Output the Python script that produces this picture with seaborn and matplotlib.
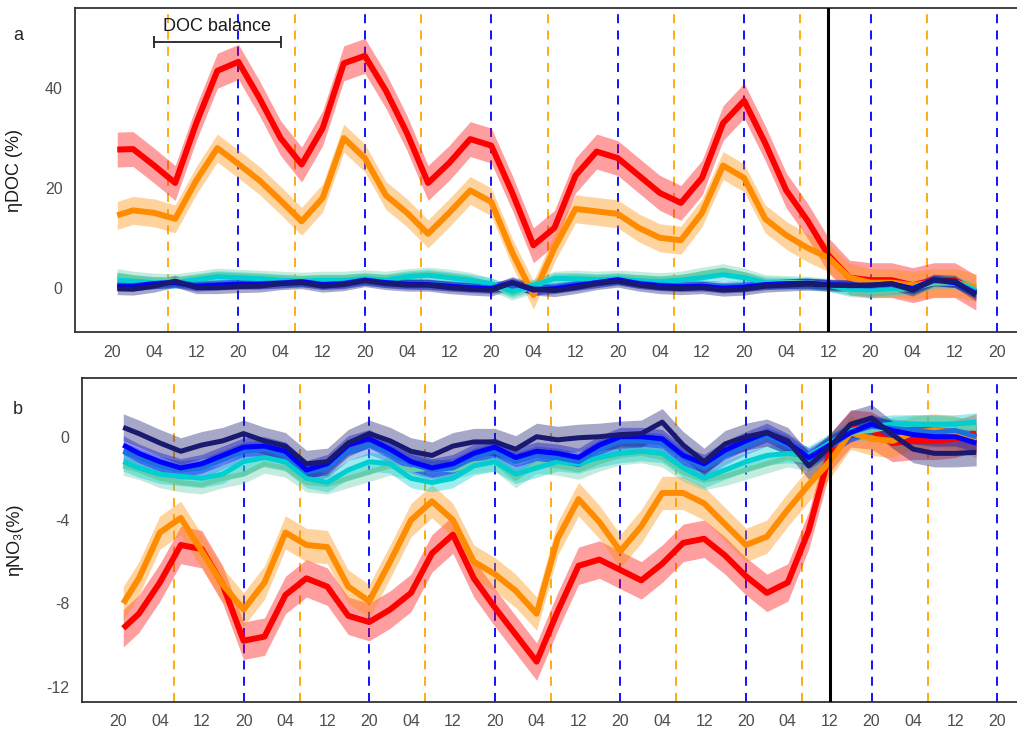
import numpy as np
import pandas as pd
import matplotlib
matplotlib.use("Agg")
import matplotlib.pyplot as plt
import seaborn as sns

# ---------------- data ----------------
hours = [1, 4, 8, 12, 16, 20, 24, 28, 32, 36, 40, 44, 48, 52, 56, 60, 64, 68, 72, 76, 80,
         84, 88, 92, 96, 100, 104, 108, 112, 116, 120, 124, 128, 132, 136, 140, 144, 148,
         152, 156, 160, 164]

tick_pos = list(range(0, 169, 8))
tick_labels = ["20", "04", "12"] * 7 + ["20"]
sunrise = [10.7, 34.7, 58.7, 82.7, 106.7, 130.7, 154.7]
sunset = [24, 48, 72, 96, 120, 144, 168]
event = 136

series_names = ["red", "orange", "aquamarine", "turquoise", "dodger", "blue", "navy"]
series_colors = ["#FF0000", "#FF8C00", "#66CDAA", "#00CED1", "#1C6FE0", "#0000FF", "#191970"]

# panel a: eta DOC (%)
doc_red = [27.7, 27.8, 24.5, 21.0, 33.0, 43.5, 45.3, 38.0, 30.0, 24.7, 32.0, 45.0, 46.5, 39.5,
           31.0, 21.0, 25.0, 29.8, 28.5, 19.0, 8.5, 12.0, 22.5, 27.3, 26.0, 22.5, 19.0, 17.0,
           22.0, 33.0, 37.5, 29.0, 19.5, 13.5, 6.5, 2.0, 1.5, 1.5, 0.5, 1.5, 1.5, -1.0]
doc_orange = [14.5, 15.5, 15.0, 13.8, 21.5, 28.0, 24.8, 21.5, 17.5, 13.3, 18.0, 30.0, 26.0,
              18.5, 15.0, 10.8, 15.0, 19.5, 17.2, 7.0, -1.5, 8.0, 15.8, 15.3, 14.8, 12.0, 10.0,
              9.5, 15.0, 24.5, 22.0, 13.8, 10.5, 8.0, 6.0, 2.0, 1.0, 1.0, 0.5, 1.0, 1.0, 0.0]
doc_aquamarine = [2.5, 2.0, 1.6, 1.5, 2.0, 2.6, 2.4, 2.2, 2.0, 1.8, 2.0, 2.0, 2.3, 2.0, 2.5,
                  2.8, 2.4, 1.8, 0.6, -1.2, 0.2, 2.0, 2.2, 2.0, 2.2, 2.0, 1.7, 2.0, 2.8, 3.5,
                  2.6, 1.3, 1.1, 1.0, 0.6, -0.5, -0.8, -0.4, -0.2, 1.0, 1.0, -0.5]
doc_turquoise = [1.5, 1.3, 1.0, 1.0, 1.6, 2.2, 2.0, 1.8, 1.5, 1.3, 1.5, 1.5, 1.8, 1.5, 2.2,
                 2.5, 2.0, 1.5, 0.8, -0.8, 0.5, 1.8, 1.8, 1.6, 1.8, 1.4, 1.2, 1.5, 2.0, 2.6,
                 2.0, 1.0, 0.9, 0.8, 0.5, -0.3, -0.5, -0.2, 0.0, 1.2, 1.2, -0.5]
doc_dodger = [0.5, 0.4, 0.8, 1.2, 0.5, 0.6, 0.8, 0.8, 1.0, 1.2, 0.7, 0.9, 1.5, 1.0, 0.8,
              0.7, 0.4, 0.2, 0.0, 0.8, -0.3, 0.0, 0.5, 1.0, 1.5, 0.9, 0.5, 0.4, 0.5, 0.3,
              0.3, 0.6, 0.8, 0.9, 0.6, 0.4, 0.3, 0.6, -0.3, 1.4, 1.0, -1.0]
doc_blue = [0.3, 0.3, 0.8, 1.0, 0.3, 0.5, 0.7, 0.7, 0.9, 1.2, 0.6, 0.8, 1.5, 1.0, 0.7, 0.6,
            0.3, 0.0, -0.2, 1.0, -0.5, -0.2, 0.4, 1.0, 1.6, 0.8, 0.4, 0.2, 0.3, -0.1, 0.1,
            0.6, 0.8, 0.9, 0.6, 0.5, 0.5, 0.8, -0.2, 1.6, 1.0, -1.2]
doc_navy = [-0.2, -0.3, 0.3, 1.3, 0.0, 0.0, 0.2, 0.3, 0.8, 1.0, 0.3, 0.6, 1.4, 0.8, 0.5,
            0.5, 0.0, -0.3, -0.5, 1.0, -0.3, -0.6, 0.0, 0.8, 1.3, 0.5, 0.0, -0.2, 0.0, -0.5,
            -0.3, 0.3, 0.5, 0.7, 0.5, 0.4, 0.5, 0.8, -0.5, 1.5, 1.3, -1.5]
doc_halfwidth = [3.5, 2.8, 1.3, 1.2, 1.0, 1.0, 1.2]

# panel b: eta NO3 (%)
no3_red = [-9.2, -8.5, -7.0, -5.2, -5.4, -7.1, -9.8, -9.6, -7.6, -6.8, -7.2, -8.6, -8.9, -8.3,
           -7.5, -5.6, -4.7, -6.8, -8.2, -9.5, -10.8, -8.4, -6.2, -5.9, -6.4, -6.9, -6.1, -5.1,
           -4.9, -5.7, -6.7, -7.5, -7.0, -4.5, -0.8, 0.4, 0.3, -0.3, -0.2, -0.2, -0.1, 0.2]
no3_orange = [-8.0, -6.8, -4.6, -3.9, -5.5, -7.1, -8.3, -7.0, -4.6, -5.2, -5.3, -7.2, -7.9,
              -6.0, -4.0, -3.1, -4.0, -6.0, -6.6, -7.4, -8.5, -4.9, -3.0, -4.1, -5.5, -4.3,
              -2.7, -2.7, -3.2, -4.2, -5.2, -4.8, -3.5, -2.3, -1.2, 0.2, -0.1, -0.2, 0.2, 0.3,
              0.2, -0.2]
no3_aquamarine = [-1.4, -1.6, -2.0, -2.2, -2.3, -2.0, -1.8, -1.3, -1.5, -2.2, -2.3, -2.0, -1.7,
                  -1.4, -1.6, -1.5, -1.6, -1.3, -1.2, -2.0, -1.3, -1.4, -1.6, -1.2, -0.9, -0.8,
                  -1.0, -1.7, -2.1, -1.9, -1.6, -1.3, -1.0, -1.2, -0.4, 0.2, 0.3, 0.5, 0.6,
                  0.6, 0.5, 0.4]
no3_turquoise = [-1.2, -1.5, -1.8, -1.9, -2.0, -1.8, -1.2, -1.0, -1.2, -2.0, -2.2, -1.6, -1.2,
                 -1.3, -2.0, -2.2, -2.0, -1.4, -1.2, -1.8, -1.5, -1.2, -1.3, -1.0, -0.8, -0.7,
                 -0.8, -1.5, -2.0, -1.6, -1.2, -0.9, -0.8, -0.9, -0.3, 0.3, 0.5, 0.6, 0.6, 0.6,
                 0.6, 0.7]
no3_dodger = [-0.7, -1.0, -1.4, -1.6, -1.5, -1.1, -0.7, -0.6, -0.9, -1.7, -1.5, -0.7, -0.4,
              -0.8, -1.3, -1.6, -1.5, -1.0, -0.7, -1.2, -0.9, -1.0, -1.2, -0.6, -0.2, -0.2,
              -0.3, -1.0, -1.5, -0.9, -0.4, 0.0, -0.4, -1.1, -0.5, 0.2, 0.5, 0.4, 0.3, 0.2,
              0.3, 0.0]
no3_blue = [-0.4, -0.8, -1.2, -1.5, -1.3, -0.9, -0.5, -0.45, -0.7, -1.6, -1.3, -0.4, -0.1, -0.6,
            -1.2, -1.5, -1.3, -0.8, -0.5, -1.0, -0.7, -0.8, -1.0, -0.4, 0.0, 0.0, -0.1, -0.9,
            -1.3, -0.65, -0.2, 0.2, -0.3, -1.0, -0.4, 0.2, 0.6, 0.3, 0.1, 0.0, 0.0, -0.3]
no3_navy = [0.45, 0.15, -0.3, -0.7, -0.4, -0.2, 0.15, -0.2, -0.45, -1.3, -1.2, -0.3, 0.15,
            -0.2, -0.7, -0.9, -0.45, -0.25, -0.25, -0.6, 0.0, -0.15, -0.05, 0.0, 0.1, 0.15,
            0.7, -0.4, -1.2, -0.35, 0.0, 0.2, -0.2, -1.4, -0.5, 0.6, 0.9, 0.1, -0.6, -0.8,
            -0.8, -0.75]
no3_halfwidth = [0.9, 0.8, 0.45, 0.45, 0.45, 0.45, 0.65]

doc_values = [doc_red, doc_orange, doc_aquamarine, doc_turquoise, doc_dodger, doc_blue, doc_navy]
no3_values = [no3_red, no3_orange, no3_aquamarine, no3_turquoise, no3_dodger, no3_blue, no3_navy]

# ---------------- style ----------------
sns.set_style("white")
plt.rcParams["font.family"] = ["Liberation Sans", "DejaVu Sans"]
plt.rcParams["axes.unicode_minus"] = False

W, H = 1017, 731
fig = plt.figure(figsize=(W / 100, H / 100), dpi=100)
ax1 = fig.add_axes([75 / W, 1 - 332 / H, 942 / W, 324 / H])
ax2 = fig.add_axes([82 / W, 1 - 702 / H, 935 / W, 324 / H])

draw_order = [0, 1, 2, 3, 4, 5, 6]


def draw_panel(ax, values, halfwidths):
    frames = []
    for name, vals in zip(series_names, values):
        frames.append(pd.DataFrame({"hour": hours, "value": vals, "series": name}))
    df = pd.concat(frames, ignore_index=True)
    # ribbons
    for i in draw_order:
        name = series_names[i]
        sub = df[df["series"] == name]
        v = sub["value"].to_numpy()
        ax.fill_between(sub["hour"], v - halfwidths[i], v + halfwidths[i],
                        color=series_colors[i], alpha=0.38, lw=0, zorder=2)
    # lines
    for i in draw_order:
        name = series_names[i]
        sub = df[df["series"] == name]
        sns.lineplot(data=sub, x="hour", y="value", ax=ax, color=series_colors[i],
                     lw=4.3 if i < 2 else 3.6, legend=False, zorder=3,
                     solid_joinstyle="round", solid_capstyle="butt")
    for s in sunrise:
        ax.axvline(s, color="#FFA500", lw=1.3, ls=(0, (5, 4)), zorder=1)
    for s in sunset:
        ax.axvline(s, color="#0000FF", lw=1.3, ls=(0, (5, 4)), zorder=1)
    ax.axvline(event, color="black", lw=2.2, zorder=4)
    ax.set_xticks(tick_pos)
    ax.set_xticklabels(tick_labels)
    ax.set_xlabel("")
    for sp in ["left", "top", "bottom"]:
        ax.spines[sp].set_visible(True)
        ax.spines[sp].set_color("#333333")
        ax.spines[sp].set_linewidth(1.3)
    ax.spines["right"].set_visible(False)
    ax.tick_params(axis="both", which="both", length=4, width=1, color="#333333",
                   labelcolor="#4D4D4D", labelsize=11.5, direction="out")
    ax.tick_params(axis="x", pad=5)
    ax.tick_params(axis="y", pad=5)


draw_panel(ax1, doc_values, doc_halfwidth)
draw_panel(ax2, no3_values, no3_halfwidth)

ax1.set_xlim(-7.02, 171.8)
ax1.set_ylim(-8.9, 56.1)
ax1.set_yticks([0, 20, 40])
ax1.set_ylabel("ηDOC (%)", fontsize=13, color="#1a1a1a")
ax1.yaxis.set_label_coords(-0.055, 0.5)

ax2.set_xlim(-6.88, 171.8)
ax2.set_ylim(-12.74, 2.82)
ax2.set_yticks([0, -4, -8, -12])
ax2.set_ylabel("ηNO₃(%)", fontsize=13, color="#1a1a1a")
ax2.yaxis.set_label_coords(-0.063, 0.5)

# DOC balance bracket
ax1.errorbar([20], [49.3], xerr=[[12], [12]], fmt="none", ecolor="#222222",
             elinewidth=1.3, capsize=4, capthick=1.3, zorder=5)
ax1.text(20, 52.4, "DOC balance", ha="center", va="center", fontsize=13, color="#1a1a1a",
         zorder=5)

fig.text(18 / W, 1 - 35 / H, "a", fontsize=13, ha="center", va="center")
fig.text(18 / W, 1 - 410 / H, "b", fontsize=13, ha="center", va="center")

fig.savefig("out.png", dpi=100)
